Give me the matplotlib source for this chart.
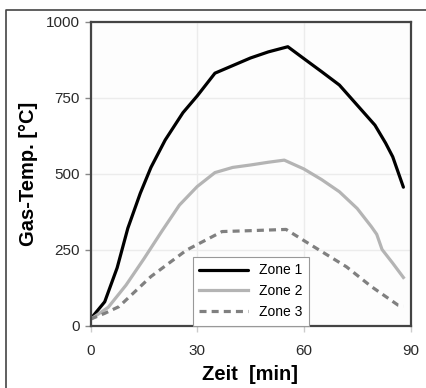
import matplotlib
matplotlib.use("Agg")
import matplotlib.pyplot as plt
from matplotlib.lines import Line2D

plt.rcParams['font.family'] = ['Liberation Sans', 'DejaVu Sans']

# Zone 1
t1 = [0, 4, 7.5, 10.5, 14, 17, 21, 26, 30, 35, 40, 45, 50, 55.5, 60, 65, 70, 75, 80, 83, 85, 88]
z1 = [21, 78, 190, 320, 435, 520, 610, 700, 755, 830, 855, 880, 900, 917, 878, 835, 791, 725, 659, 600, 555, 455]
# Zone 2
t2 = [0, 5, 10, 15, 20, 25, 30, 35, 40, 45, 50, 54.5, 60, 65, 70, 75, 79, 80.5, 82, 85, 88]
z2 = [20, 60, 133, 219, 309, 396, 457, 503, 520, 528, 537, 544, 515, 480, 440, 385, 325, 300, 250, 205, 158]
# Zone 3
t3 = [0, 4, 8, 17, 27, 37, 45, 55, 62, 72, 79, 86.5, 88]
z3 = [21, 40, 62, 161, 248, 309, 312, 316, 265, 193, 128, 67, 64]

labels = ['Zone 1', 'Zone 2', 'Zone 3']
xticks = [0, 30, 60, 90]
yticks = [0, 250, 500, 750, 1000]

fig = plt.figure(figsize=(4.26, 3.88), dpi=100)
W, H = 426, 388
ax = fig.add_axes([90.5 / W, 1 - 325.5 / H, 320 / W, 304 / H])
ax.set_facecolor('#fdfdfd')

ax.plot(t1, z1, color='black', lw=2.3, label=labels[0], solid_capstyle='round')
ax.plot(t2, z2, color='#b4b4b4', lw=2.3, label=labels[1])
ax.plot(t3, z3, color='#808080', lw=2.3, ls=(0, (2.2, 1.6)), label=labels[2])

ax.set_xlim(0, 90)
ax.set_ylim(0, 1000)
ax.set_xticks(xticks)
ax.set_yticks(yticks)
ax.set_xticklabels([str(v) for v in xticks], fontsize=11, color='#2a2a2a')
ax.set_yticklabels([str(v) for v in yticks], fontsize=11, color='#2a2a2a')
ax.tick_params(axis='y', length=4, width=1, color='#888888', pad=4)
ax.tick_params(axis='x', length=4, width=1, color='#cccccc', pad=9)
ax.grid(True, color='#ececec', lw=1)
ax.set_axisbelow(True)
for s in ax.spines.values():
    s.set_color('#444444')
    s.set_linewidth(1.6)

ax.set_xlabel('Zeit  [min]', fontsize=14.5, fontweight='bold', labelpad=5)
ax.set_ylabel('Gas-Temp. [°C]', fontsize=14.5, fontweight='bold', labelpad=5)

leg = ax.legend(loc='lower left', bbox_to_anchor=(0.32, 0.0), borderaxespad=0,
                fontsize=10, handlelength=3.5, labelspacing=0.5, frameon=True,
                fancybox=False, edgecolor='#999999', framealpha=1, borderpad=0.45,
                handletextpad=0.8)
leg.get_frame().set_linewidth(0.8)

# outer frame (cut at right and bottom)
fig.add_artist(Line2D([6 / W, 6 / W, 1.0], [0.0, 1 - 10 / H, 1 - 10 / H],
                      transform=fig.transFigure, color='#444444', lw=1.2))

fig.savefig('out.png', dpi=100, facecolor='white')
